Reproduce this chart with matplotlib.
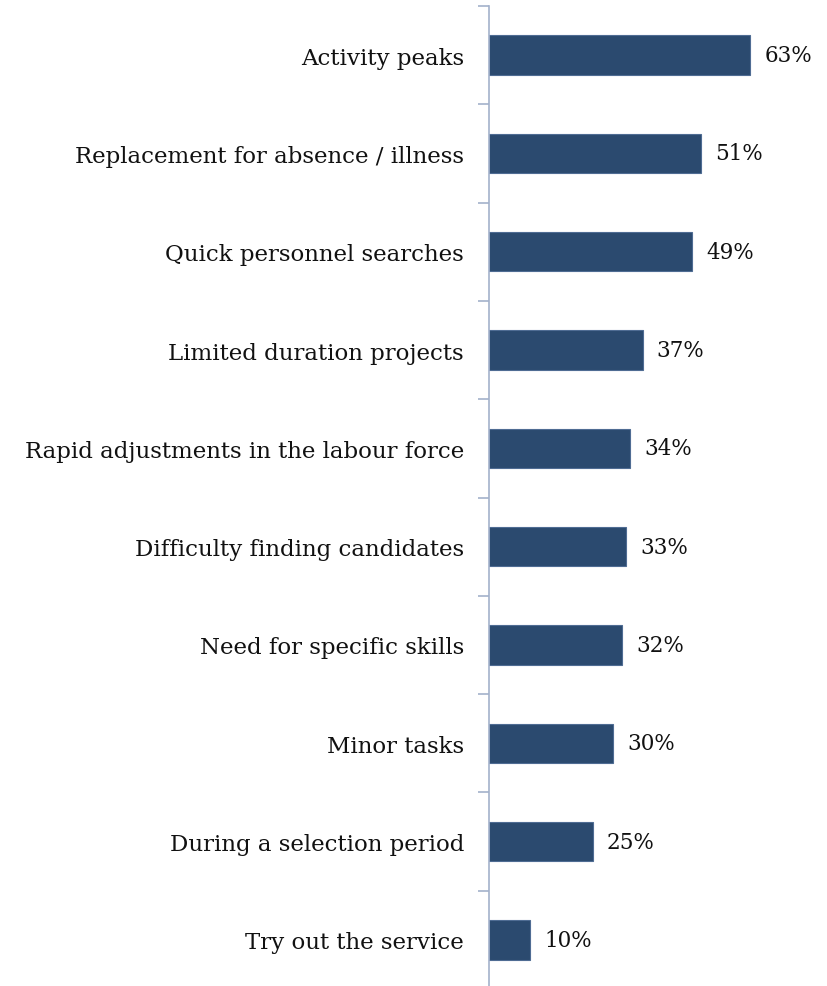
import numpy as np
import matplotlib.pyplot as plt

categories = [
    'Activity peaks',
    'Replacement for absence / illness',
    'Quick personnel searches',
    'Limited duration projects',
    'Rapid adjustments in the labour force',
    'Difficulty finding candidates',
    'Need for specific skills',
    'Minor tasks',
    'During a selection period',
    'Try out the service',
]
values = [63, 51, 49, 37, 34, 33, 32, 30, 25, 10]

plt.rcParams['font.family'] = ['DejaVu Serif']

fig = plt.figure(figsize=(8.28, 9.87), dpi=100)
W, H = 828, 987
# axis runs from 7 px below the top edge to just past the bottom edge
ax = fig.add_axes([489 / W, -3 / H, 332 / W, 983 / H])

y = np.arange(len(categories))
ax.barh(y, values, height=0.4, color='#2B4A6F', edgecolor='#4F6C93', linewidth=0.8)

ax.set_xlim(0, 80)
ax.set_ylim(len(categories) - 0.5, -0.5)

for yi, v in zip(y, values):
    ax.text(v + 3.4, yi, f'{v}%', va='center', ha='left', fontsize=15.5, color='#111111')

ax.set_yticks(y)
ax.set_yticklabels(categories, fontsize=16.5, color='#111111')
ax.set_yticks(np.arange(len(categories) + 1) - 0.5, minor=True)
ax.tick_params(axis='y', which='major', length=0, pad=18)
ax.tick_params(axis='y', which='minor', length=8, width=1.2, color='#A3B1CB')
ax.set_xticks([])

for s in ['top', 'right', 'bottom']:
    ax.spines[s].set_visible(False)
ax.spines['left'].set_color('#A3B1CB')
ax.spines['left'].set_linewidth(1.2)

fig.savefig('out.png', dpi=100)
